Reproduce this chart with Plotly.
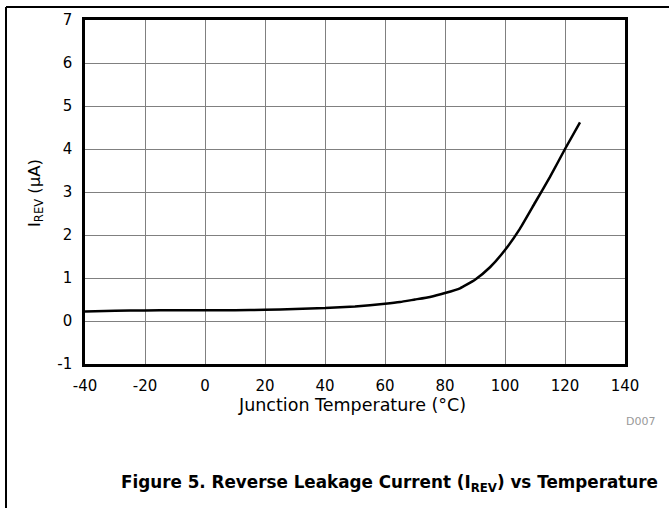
import plotly.graph_objects as go

temperature_c = [-40, -30, -20, -10, 0, 10, 20, 30, 40, 50, 60, 65, 70, 75, 80, 85, 90, 95, 100, 105, 110, 115, 120, 125]
i_rev_ua = [0.22, 0.24, 0.245, 0.25, 0.25, 0.25, 0.26, 0.28, 0.30, 0.34, 0.40, 0.44, 0.50, 0.56, 0.65, 0.76, 0.96, 1.25, 1.65, 2.15, 2.75, 3.35, 4.0, 4.62]

x_ticks = [-40, -20, 0, 20, 40, 60, 80, 100, 120, 140]
y_ticks = [-1, 0, 1, 2, 3, 4, 5, 6, 7]

W, H = 669, 508
L, R, T, B = 85, 625, 20, 364

def px(x):
    return (x - L) / (R - L)

def py(y):
    return (B - y) / (B - T)

fig = go.Figure()
fig.add_trace(go.Scatter(x=temperature_c, y=i_rev_ua, mode="lines",
                         line=dict(color="black", width=2.5, shape="spline", smoothing=0.4),
                         showlegend=False, hoverinfo="skip"))

font = "DejaVu Sans, Liberation Sans, Arial, sans-serif"
axis_common = dict(showgrid=True, gridcolor="#808080", gridwidth=1,
                   zeroline=True, zerolinecolor="#808080", zerolinewidth=1,
                   showline=True, linecolor="black", linewidth=2.5, mirror=True,
                   ticks="", tickfont=dict(family=font, size=15, color="black"))

fig.update_xaxes(range=[-40, 140], tickvals=x_ticks, ticktext=[str(v) for v in x_ticks],
                 ticklabelstandoff=6, **axis_common)
fig.update_yaxes(range=[-1, 7], tickvals=y_ticks, ticktext=[str(v) for v in y_ticks],
                 ticklabelstandoff=7, **axis_common)

annotations = [
    dict(text="I<sub>REV</sub> (µA)", x=px(35), y=py(193), xref="paper", yref="paper",
         textangle=-90, showarrow=False, font=dict(family=font, size=16.5, color="black"),
         xanchor="center", yanchor="middle"),
    dict(text="Junction Temperature (°C)", x=px(352), y=py(405), xref="paper", yref="paper",
         showarrow=False, font=dict(family=font, size=17.5, color="black"),
         xanchor="center", yanchor="middle"),
    dict(text="D007", x=px(657), y=py(421), xref="paper", yref="paper",
         showarrow=False, font=dict(family=font, size=11, color="#999999"),
         xanchor="right", yanchor="middle"),
    dict(text="<b>Figure 5. Reverse Leakage Current (I<sub>REV</sub>) vs Temperature</b>",
         x=px(660), y=py(483), xref="paper", yref="paper",
         showarrow=False, font=dict(family=font, size=16.8, color="black"),
         xanchor="right", yanchor="middle"),
]

shapes = [
    dict(type="line", xref="paper", yref="paper", x0=px(6), x1=px(669), y0=py(7), y1=py(7),
         line=dict(color="black", width=2)),
    dict(type="line", xref="paper", yref="paper", x0=px(6), x1=px(6), y0=py(7), y1=py(508),
         line=dict(color="black", width=2)),
]

fig.update_layout(width=W, height=H, margin=dict(l=L, r=W - R, t=T, b=H - B),
                  paper_bgcolor="white", plot_bgcolor="white",
                  annotations=annotations, shapes=shapes,
                  font=dict(family=font))

fig.write_html("out.html", config={"displayModeBar": False},
               post_script="document.body.style.margin='0px';document.body.style.overflow='hidden';")
